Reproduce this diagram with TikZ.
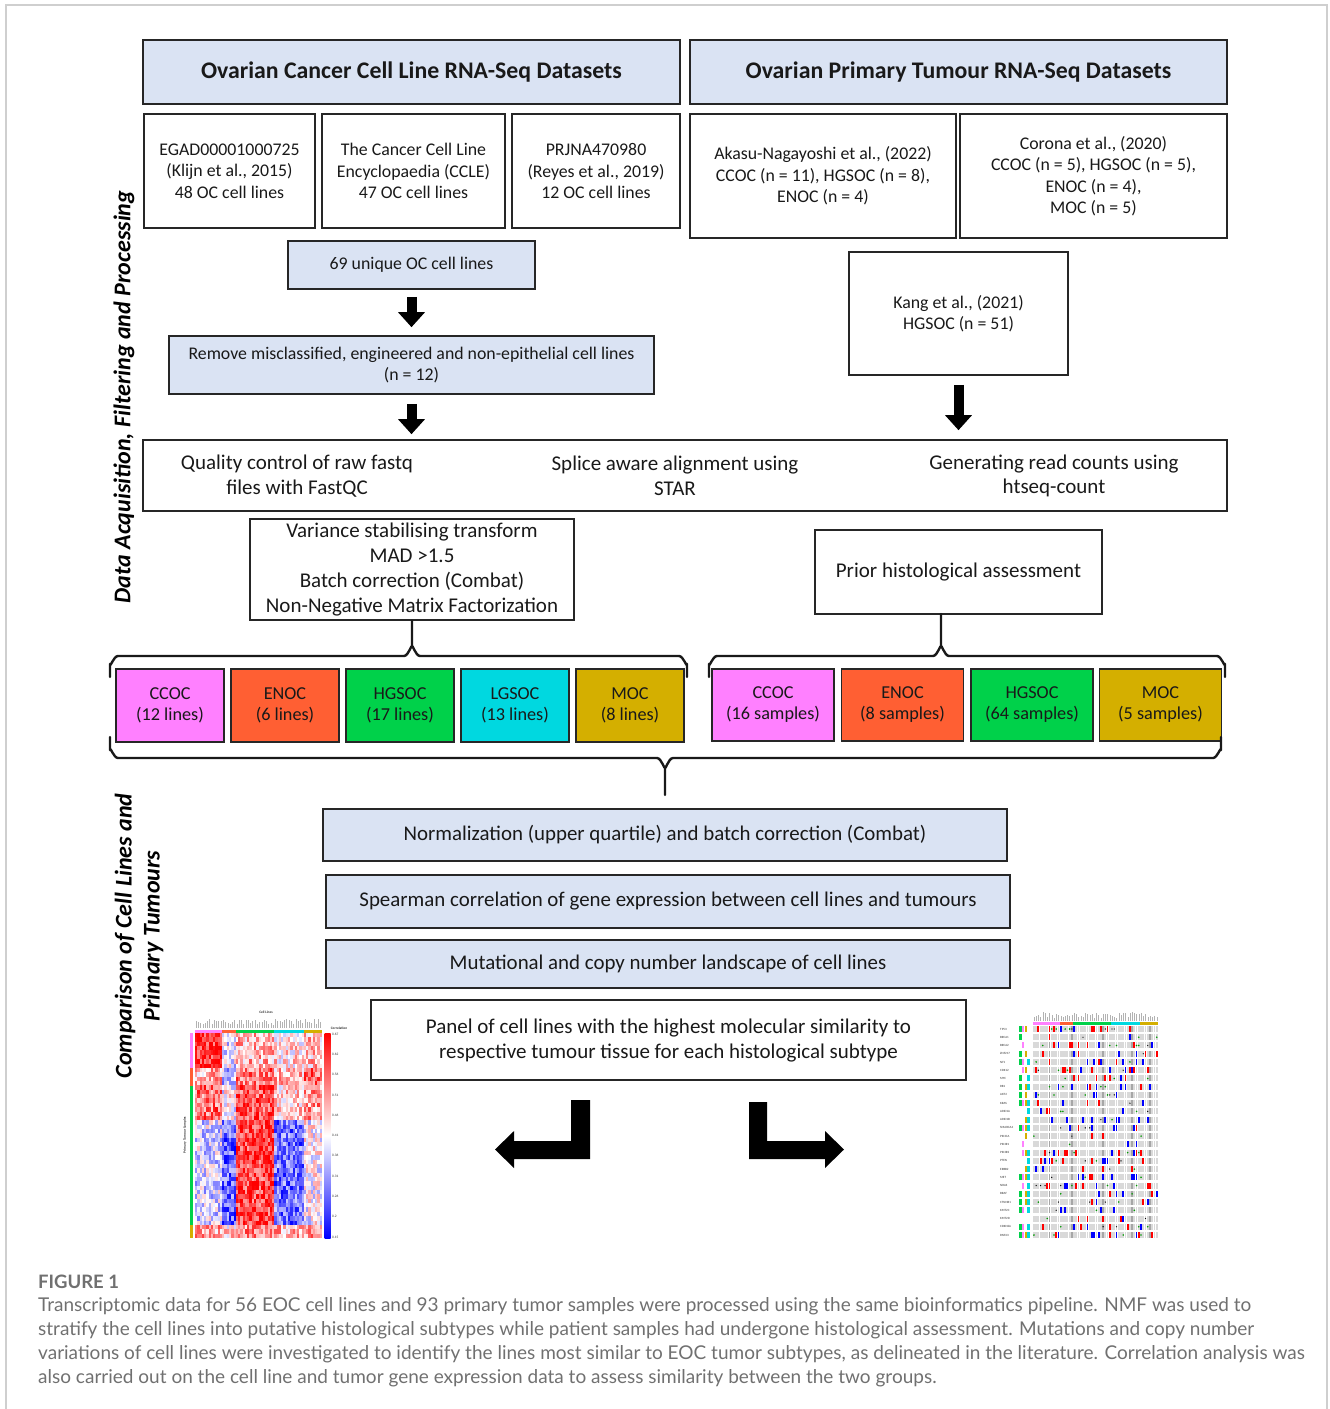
\documentclass[tikz,border=0pt]{standalone}
\usepackage{fontspec}
\setmainfont{Carlito}
\newfontfamily\capfont{Lato}
\usetikzlibrary{arrows.meta}
\definecolor{lblue}{HTML}{DAE3F3}
\definecolor{ccoc}{HTML}{FF80FF}
\definecolor{enoc}{HTML}{FF5F33}
\definecolor{hgsoc}{HTML}{00D14A}
\definecolor{lgsoc}{HTML}{00D8E0}
\definecolor{moc}{HTML}{D4AF00}
\definecolor{capgray}{HTML}{707070}
\definecolor{framegray}{HTML}{CFCFCF}
\begin{document}
\begin{tikzpicture}[x=1pt,y=-1pt,
  base/.style={draw=black!85, line width=1.6pt, align=center, inner sep=0pt, text=black!90,
     font=\fontsize{17.8}{21.5}\selectfont},
  lbbox/.style={base, fill=lblue},
  hdr/.style={draw=black!85, line width=2.2pt, fill=lblue, inner sep=0pt, text=black!90,
     font=\bfseries\fontsize{23.8}{28}\selectfont},
  bigtxt/.style={align=center, inner sep=0pt, text=black!90, font=\fontsize{21}{24.5}\selectfont},
  bigbox/.style={base, font=\fontsize{21}{25}\selectfont},
  subbox/.style={base, line width=1.5pt, font=\fontsize{18.2}{21}\selectfont},
  procbox/.style={base, fill=lblue, font=\fontsize{20.9}{25}\selectfont},
  blockarrow/.style={line width=10pt, -{Triangle[width=26pt,length=15pt]}},
  bracel/.style={draw=black!90, line width=2.4pt, line join=round, line cap=round},
  sidetitle/.style={rotate=90, align=center, inner sep=0pt, text=black,
     font=\bfseries\itshape\fontsize{24}{28}\selectfont},
  tiny/.style={inner sep=0pt, font=\fontsize{3.5}{4}\selectfont, text=black!80},
  captxt/.style={anchor=base west, inner sep=0pt, text=capgray, font=\capfont\fontsize{19}{20}\selectfont}
]
\useasboundingbox (0,0) rectangle (1330,1409);
% frame
\draw[framegray, line width=1.2pt] (6,1409) -- (6,5) -- (1327,5) -- (1327,1409);

% headers
\node[hdr, minimum width=537pt, minimum height=64pt] (hdrL) at (411.5,72) {Ovarian Cancer Cell Line RNA-Seq Datasets};
\node[hdr, minimum width=537pt, minimum height=64pt] (hdrR) at (958.5,72) {Ovarian Primary Tumour RNA-Seq Datasets};

% datasets
\node[base, minimum width=171pt, minimum height=114pt] (egad) at (229.5,171) {EGAD00001000725\\(Klijn et al., 2015)\\48 OC cell lines};
\node[base, minimum width=183pt, minimum height=114pt] (ccle) at (413.5,171) {The Cancer Cell Line\\Encyclopaedia (CCLE)\\47 OC cell lines};
\node[base, minimum width=168pt, minimum height=114pt] (prj) at (596,171) {PRJNA470980\\(Reyes et al., 2019)\\12 OC cell lines};
\node[base, minimum width=266pt, minimum height=124pt] (akasu) at (823,176) {Akasu-Nagayoshi et al., (2022)\\CCOC (n = 11), HGSOC (n = 8),\\ENOC (n = 4)};
\node[base, minimum width=267pt, minimum height=124pt] (corona) at (1093.5,176) {Corona et al., (2020)\\CCOC (n = 5), HGSOC (n = 5),\\ENOC (n = 4),\\MOC (n = 5)};

\node[lbbox, minimum width=247pt, minimum height=48pt] (uniq) at (411.5,265) {69 unique OC cell lines};
\node[lbbox, minimum width=485pt, minimum height=58pt] (remove) at (411.5,365) {Remove misclassified, engineered and non-epithelial cell lines\\(n = 12)};
\node[base, minimum width=219pt, minimum height=123pt] (kang) at (958.5,313.5) {Kang et al., (2021)\\HGSOC (n = 51)};

% processing box
\node[base, minimum width=1084pt, minimum height=71pt] (qc) at (685,475.5) {};
\node[bigtxt] (qc1) at (297,476) {Quality control of raw fastq\\files with FastQC};
\node[bigtxt] (qc2) at (675,476) {Splice aware alignment using\\STAR};
\node[bigtxt] (qc3) at (1054,476) {Generating read counts using\\htseq-count};

\node[bigbox, minimum width=324pt, minimum height=101pt] (var) at (412,569.5) {Variance stabilising transform\\MAD {>}1.5\\Batch correction (Combat)\\Non-Negative Matrix Factorization};
\node[bigbox, minimum width=287pt, minimum height=84pt] (prior) at (958.5,572) {Prior histological assessment};

% arrows
\draw[blockarrow, shorten <=7pt, shorten >=8pt] (uniq.south) -- (remove.north);
\draw[blockarrow, shorten <=9pt, shorten >=5pt] (remove.south) -- (remove.south |- qc.north);
\draw[blockarrow, shorten <=9pt, shorten >=9pt] (kang.south) -- (kang.south |- qc.north);

% subtype boxes: cell lines
\node[subbox, fill=ccoc, minimum width=108pt, minimum height=73pt] (cl1) at (170,705.5) {CCOC\\(12 lines)};
\node[subbox, fill=enoc, minimum width=108pt, minimum height=73pt] (cl2) at (285,705.5) {ENOC\\(6 lines)};
\node[subbox, fill=hgsoc, minimum width=108pt, minimum height=73pt] (cl3) at (400,705.5) {HGSOC\\(17 lines)};
\node[subbox, fill=lgsoc, minimum width=108pt, minimum height=73pt] (cl4) at (515,705.5) {LGSOC\\(13 lines)};
\node[subbox, fill=moc, minimum width=108pt, minimum height=73pt] (cl5) at (630,705.5) {MOC\\(8 lines)};
% subtype boxes: tumours
\node[subbox, fill=ccoc, minimum width=122pt, minimum height=72pt] (tu1) at (773,705) {CCOC\\(16 samples)};
\node[subbox, fill=enoc, minimum width=122pt, minimum height=72pt] (tu2) at (902.5,705) {ENOC\\(8 samples)};
\node[subbox, fill=hgsoc, minimum width=122pt, minimum height=72pt] (tu3) at (1032,705) {HGSOC\\(64 samples)};
\node[subbox, fill=moc, minimum width=122pt, minimum height=72pt] (tu4) at (1160.5,705) {MOC\\(5 samples)};

% braces
\coordinate (bt1) at (var.south);
\draw[bracel] (110,677) -- (110,664) to[out=-90,in=180] (118,656) -- (404,656) to[out=0,in=90] (412,647) -- (bt1);
\draw[bracel] (412,647) to[out=90,in=180] (420,656) -- (679,656) to[out=0,in=-90] (687,664) -- (687,677);
\coordinate (bt2) at (941,614);
\draw[bracel] (709,677) -- (709,664) to[out=-90,in=180] (717,656) -- (933,656) to[out=0,in=90] (941,647) -- (bt2);
\draw[bracel] (941,647) to[out=90,in=180] (949,656) -- (1217,656) to[out=0,in=-90] (1225,664) -- (1225,677);
\coordinate (bb) at (665,795);
\draw[bracel] (110,737) -- (110,750) to[out=90,in=180] (118,758) -- (657,758) to[out=0,in=-90] (665,767) -- (bb);
\draw[bracel] (665,767) to[out=-90,in=180] (673,758) -- (1213,758) to[out=0,in=90] (1221,750) -- (1221,737);

% comparison boxes
\node[procbox, minimum width=684pt, minimum height=52pt] (norm) at (665,835) {Normalization (upper quartile) and batch correction (Combat)};
\node[procbox, minimum width=684pt, minimum height=53pt] (spear) at (668,901.5) {Spearman correlation of gene expression between cell lines and tumours};
\node[procbox, minimum width=684pt, minimum height=48pt] (mut) at (668,964) {Mutational and copy number landscape of cell lines};
\node[bigbox, minimum width=595pt, minimum height=80pt] (panel) at (668.5,1040) {Panel of cell lines with the highest molecular similarity to\\respective tumour tissue for each histological subtype};

% L arrows
\fill[black] (590,1100) -- (590,1159) -- (514,1159) -- (514,1168) -- (495,1149.5) -- (514,1131) -- (514,1141) -- (571,1141) -- (571,1100) -- cycle;
\fill[black] (749,1102) -- (767,1102) -- (767,1141) -- (825,1141) -- (825,1131) -- (844,1149.5) -- (825,1168) -- (825,1159) -- (749,1159) -- cycle;

% side titles
\node[sidetitle] (side1) at (124,397) {Data Acquisition, Filtering and Processing};
\node[sidetitle] (side2) at (139,936) {Comparison of Cell Lines and\\Primary Tumours};

% ---------- heatmap ----------
\pgfmathsetseed{11}
\def\hmarr{{0.8,-0.1,0.3,0.15,0.25, 0.3,-0.25,0.55,0.3,0.55, 0.55,0.0,0.65,0.2,0.4, -0.15,-0.6,0.7,-0.55,0.0, 0.35,0.15,0.45,0.3,0.45}}
\foreach \j in {1,...,47}{
  \foreach \i in {1,...,56}{
    \pgfmathtruncatemacro\cg{ifthenelse(\i<=12,0,ifthenelse(\i<=18,1,ifthenelse(\i<=35,2,ifthenelse(\i<=48,3,4))))}
    \pgfmathtruncatemacro\rg{ifthenelse(\j<=8,0,ifthenelse(\j<=12,1,ifthenelse(\j<=20,2,ifthenelse(\j<=44,3,4))))}
    \pgfmathtruncatemacro\k{\rg*5+\cg}
    \pgfmathsetmacro\bv{\hmarr[\k]}
    \pgfmathsetmacro\v{\bv+0.8*rnd-0.4}
    \pgfmathtruncatemacro\p{min(100,abs(\v)*105)}
    \ifdim\v pt>0pt
      \fill[red!\p!white] ({195+(\i-1)*2.268},{1033+(\j-1)*4.362}) rectangle ++(2.4,4.5);
    \else
      \fill[blue!\p!white] ({195+(\i-1)*2.268},{1033+(\j-1)*4.362}) rectangle ++(2.4,4.5);
    \fi
  }
}
% heatmap bars
\fill[ccoc] (195,1029.5) rectangle (222.2,1032.5);
\fill[enoc] (222.2,1029.5) rectangle (235.8,1032.5);
\fill[hgsoc] (235.8,1029.5) rectangle (274.4,1032.5);
\fill[lgsoc] (274.4,1029.5) rectangle (303.9,1032.5);
\fill[moc] (303.9,1029.5) rectangle (322,1032.5);
\fill[ccoc] (189.5,1033) rectangle (192.5,1068);
\fill[enoc] (189.5,1068) rectangle (192.5,1085.5);
\fill[hgsoc] (189.5,1085.5) rectangle (192.5,1225);
\fill[moc] (189.5,1225) rectangle (192.5,1238);
\shade[top color=red, bottom color=blue, middle color=white] (324.5,1033) rectangle (330.5,1238);
\foreach \lab [count=\n from 0] in {0.67,0.62,0.56,0.51,0.46,0.41,0.36,0.31,0.26,0.2,0.15}{
  \node[tiny, anchor=west] at (332,{1034+\n*20.3}) {\lab};
}
\node[tiny, font=\bfseries\fontsize{3.5}{4}\selectfont] (hmcl) at (266,1012) {Cell Lines};
\node[tiny, font=\bfseries\fontsize{3.5}{4}\selectfont] (hmcor) at (339,1028) {Correlation};
\node[tiny, rotate=90, font=\bfseries\fontsize{3.5}{4}\selectfont] (hmps) at (185,1135) {Primary Tumour Samples};
\foreach \i in {1,...,56}{
  \pgfmathsetmacro\hh{3+6*rnd}
  \draw[gray!60, line width=0.5pt] ({196+(\i-1)*2.268},1027.5) -- ++(0,-\hh);
}

% ---------- mutation panel ----------
\foreach \g [count=\r from 0] in {TP53,BRCA1,BRCA2,ZNF217,NF1,CDK12,MYC,RB1,AKT2,KRAS,ARID1A,ARID1B,SMARCA4,PIK3CA,PIK3R1,PIK3R2,PTEN,ERBB2,MET,NRAS,BRAF,CTNNB1,KMT2C,KMT2D,CDKN2A,RNF43}{
  \node[tiny, anchor=west, font=\fontsize{3.2}{4}\selectfont] at (1000,{1029+\r*8.24}) {\g};
  \foreach \sc [count=\s from 0] in {hgsoc,ccoc,moc,lgsoc}{
    \pgfmathsetmacro\qq{rnd}
    \ifdim\qq pt<0.55pt
      \fill[\sc] ({1019+\s*2.8},{1026+\r*8.24}) rectangle ++(2.5,6);
    \fi
  }
  \foreach \c in {0,...,55}{
    \pgfmathsetmacro\q{rnd}
    \pgfmathtruncatemacro\dk{(\c==7)||(\c==17)||(\c==31)||(\c==44)||(\c==52)}
    \ifnum\dk=1 \def\cc{gray!70}\else\def\cc{gray!30}\fi
    \ifdim\q pt<0.07pt \def\cc{red}\fi
    \ifdim\q pt>0.07pt \ifdim\q pt<0.13pt \def\cc{blue}\fi\fi
    \fill[\cc] ({1033+\c*2.232},{1026+\r*8.24}) rectangle ++(1.8,6);
    \ifdim\q pt>0.13pt \ifdim\q pt<0.17pt
      \fill[green!60!black] ({1033.9+\c*2.232},{1029+\r*8.24}) circle (0.9);
    \fi\fi
    \ifdim\q pt>0.17pt \ifdim\q pt<0.19pt
      \fill[black] ({1033.9+\c*2.232},{1029+\r*8.24}) circle (0.7);
    \fi\fi
  }
}
\fill[ccoc] (1033,1022) rectangle (1060,1024.5);
\fill[enoc] (1060,1022) rectangle (1073,1024.5);
\fill[hgsoc] (1073,1022) rectangle (1111,1024.5);
\fill[lgsoc] (1111,1022) rectangle (1140,1024.5);
\fill[moc] (1140,1022) rectangle (1158,1024.5);
\foreach \i in {0,...,55}{
  \pgfmathsetmacro\hh{3+6*rnd}
  \draw[gray!60, line width=0.5pt] ({1034+\i*2.232},1021) -- ++(0,-\hh);
}

% ---------- caption ----------
\node[captxt, font=\capfont\bfseries\fontsize{18.5}{20}\selectfont] (figlab) at (38,1288) {FIGURE 1};
\node[captxt] (cap1) at (38,1311) {Transcriptomic data for 56 EOC cell lines and 93 primary tumor samples were processed using the same bioinformatics pipeline. NMF was used to};
\node[captxt] (cap2) at (38,1335) {stratify the cell lines into putative histological subtypes while patient samples had undergone histological assessment. Mutations and copy number};
\node[captxt] (cap3) at (38,1359) {variations of cell lines were investigated to identify the lines most similar to EOC tumor subtypes, as delineated in the literature. Correlation analysis was};
\node[captxt] (cap4) at (38,1383) {also carried out on the cell line and tumor gene expression data to assess similarity between the two groups.};
\end{tikzpicture}
\end{document}
